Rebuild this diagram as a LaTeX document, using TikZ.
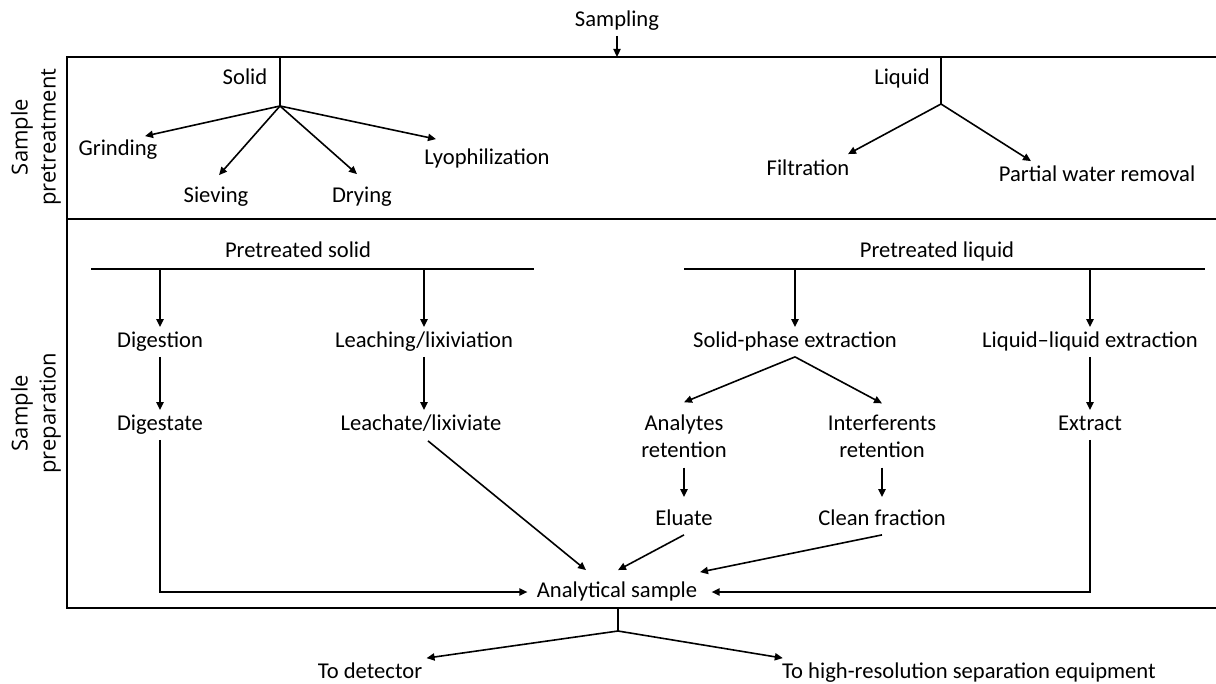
\documentclass[tikz,border=0pt]{standalone}
\usepackage{fontspec}
\setmainfont{Carlito}
\newfontfamily\sidefont{Open Sans}
\usetikzlibrary{arrows.meta,calc}
\tikzset{
  lbl/.style={inner sep=2pt, text height=8pt, text depth=2.5pt},
  lbltwo/.style={inner sep=2pt, align=center},
  sidelbl/.style={inner sep=2pt, align=center, rotate=90, font=\sidefont\fontsize{11}{14}\selectfont},
  arr/.style={-{Triangle[length=4pt,width=3.6pt]}, line width=0.8pt},
  conn/.style={line width=0.8pt},
  frame/.style={line width=1.1pt}
}

\begin{document}
\begin{tikzpicture}[x=0.5pt, y=-0.5pt, font=\fontsize{11.3}{13.4}\selectfont]
\useasboundingbox (0,0) rectangle (1216,684);

% Sampling enters the box
\node[lbl] (samp) at (617,21) {Sampling};
\coordinate (boxtop) at (617,57);
\draw[arr] (samp.south) -- (boxtop);

% Frame of the two stages
\draw[frame] (1216,57) -- (67,57) -- (67,608) -- (1216,608);
\draw[frame] (67,219) -- (1216,219);
\node[sidelbl] (pretr) at (36,137) {Sample\\pretreatment};
\node[sidelbl] (prepa) at (36,413) {Sample\\preparation};

% Pretreatment - solid
\node[lbl] (solid) at (245,79) {Solid};
\coordinate (soltop) at (280,57);
\coordinate (solb) at (280,106);
\draw[conn] (soltop) -- (solb);
\node[lbl] (grind) at (118,150) {Grinding};
\node[lbl] (siev) at (216,197) {Sieving};
\node[lbl] (dry) at (362,197) {Drying};
\node[lbl] (lyo) at (487,159) {Lyophilization};
\draw[arr] (solb) -- ($(grind.north)+(27,1)$);
\draw[arr] (solb) -- ($(siev.north)+(3,-7)$);
\draw[arr] (solb) -- ($(dry.north)+(-5,-8)$);
\draw[arr] (solb) -- ($(lyo.north)+(-51,-5)$);

% Pretreatment - liquid
\node[lbl] (liq) at (902,79) {Liquid};
\coordinate (liqtop) at (941,57);
\coordinate (liqb) at (941,104);
\draw[conn] (liqtop) -- (liqb);
\node[lbl] (filt) at (808,170) {Filtration};
\node[lbl] (pwr) at (1097,176) {Partial water removal};
\draw[arr] (liqb) -- ($(filt.north)+(40,-1)$);
\draw[arr] (liqb) -- ($(pwr.north)+(-66,0)$);

% Preparation - pretreated solid
\node[lbl] (psol) at (298,252) {Pretreated solid};
\coordinate (psl) at (91,269);
\coordinate (psr) at (534,269);
\draw[conn] (psl) -- (psr);
\node[lbl] (dig) at (160,342) {Digestion};
\node[lbl] (leach) at (424,342) {Leaching/lixiviation};
\draw[arr] (dig.north |- psl) -- (dig.north);
\draw[arr] (leach.north |- psl) -- (leach.north);
\node[lbl] (dgst) at (160,425) {Digestate};
\node[lbl] (lchate) at (421,425) {Leachate/lixiviate};
\draw[arr] (dig.south) -- (dgst.north);
\draw[arr] (leach.south) -- (leach.south |- lchate.north);

% Preparation - pretreated liquid
\node[lbl] (pliq) at (937,252) {Pretreated liquid};
\coordinate (pll) at (684,269);
\coordinate (plr) at (1205,269);
\draw[conn] (pll) -- (plr);
\node[lbl] (spe) at (795,342) {Solid-phase extraction};
\node[lbl] (lle) at (1090,342) {Liquid--liquid extraction};
\draw[arr] (spe.north |- pll) -- (spe.north);
\draw[arr] (lle.north |- pll) -- (lle.north);
\node[lbltwo] (anret) at (684,436) {Analytes\\retention};
\node[lbltwo] (intret) at (882,436) {Interferents\\retention};
\draw[arr] (spe.south) -- ($(anret.north)+(0,-8)$);
\draw[arr] (spe.south) -- ($(intret.north)+(0,-7)$);
\node[lbl] (elu) at (684,520) {Eluate};
\node[lbl] (cln) at (882,520) {Clean fraction};
\draw[arr] ($(anret.south)+(0,6)$) -- ($(elu.north)+(0,-8)$);
\draw[arr] ($(intret.south)+(0,6)$) -- ($(cln.north)+(0,-8)$);
\node[lbl] (ext) at (1090,425) {Extract};
\draw[arr] (lle.south) -- (ext.north);

% Analytical sample
\node[lbl] (anal) at (617,592) {Analytical sample};
\draw[arr] (dgst.south) |- ($(anal.west)+(-5,0)$);
\draw[arr] (ext.south) |- ($(anal.east)+(10,0)$);
\draw[arr] ($(lchate.south)+(7,1)$) -- ($(anal.north)+(-31,-7)$);
\draw[arr] (elu.south) -- ($(anal.north)+(1,-7)$);
\draw[arr] (cln.south) -- ($(anal.north)+(83,-5)$);

% Output of the preparation
\coordinate (outtop) at (618,608);
\coordinate (outb) at (618,631);
\draw[conn] (outtop) -- (outb);
\node[lbl] (tdet) at (370,673) {To detector};
\node[lbl] (thr) at (969,673) {To high-resolution separation equipment};
\draw[arr] (outb) -- (tdet.north east);
\draw[arr] (outb) -- ($(thr.north west)+(5,0)$);
\end{tikzpicture}
\end{document}
